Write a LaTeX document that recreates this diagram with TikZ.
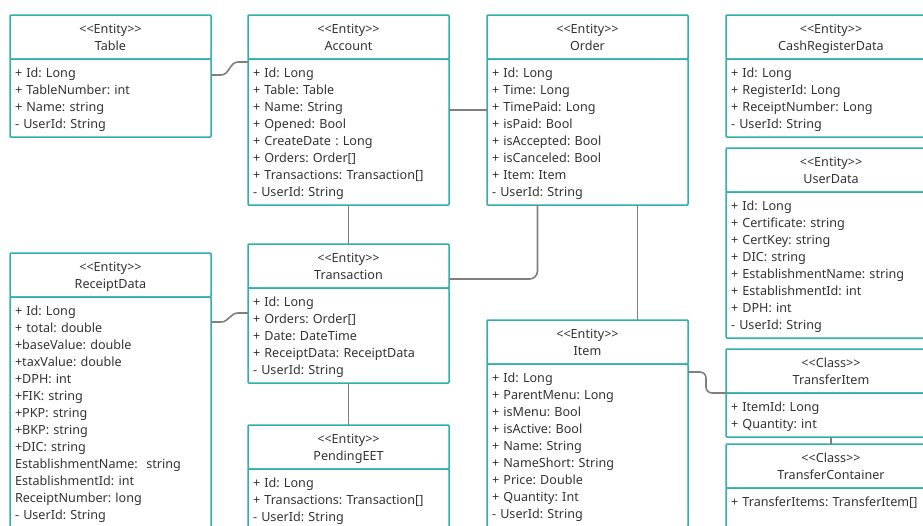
\documentclass[tikz,border=0pt]{standalone}
\usepackage{fontspec}
\setmainfont{Noto Sans}
\usepackage{tikz}
\usetikzlibrary{positioning}
\definecolor{clsborder}{HTML}{2FB0A9}
\definecolor{linkgray}{HTML}{7F7F7F}
\definecolor{clstext}{HTML}{333333}
\newcommand{\stereo}[1]{<\kern0pt<#1>\kern0pt>}
\frenchspacing

\begin{document}
\begin{tikzpicture}[x=1pt, y=-1pt, node distance=0pt,
	every node/.style={draw=clsborder, line width=1.5pt, fill=white, text=clstext, outer sep=0pt,
		inner xsep=5pt, inner ysep=3pt, rounded corners=1pt, font=\fontsize{12.6}{17}\selectfont,
		execute at begin node=\rule{0pt}{15.9pt}, execute at end node=\strut},
	hd/.style={anchor=north west, align=center, text width=191pt},
	bd/.style={align=left, text width=191pt},
	wide/.style={text width=200pt},
	link/.style={draw=linkgray, line width=1.6pt}]
			\useasboundingbox (0,0) rectangle (923,525);
			% Nodes
			\node (tblh) [hd] at (10,15) {\stereo{Entity}\\Table};
			\node (tblb) [bd, below=of tblh] {+ Id: Long\\+ TableNumber: int\\+ Name: string\\- UserId: String};
			\node (acch) [hd] at (248,15) {\stereo{Entity}\\Account};
			\node (accb) [bd, below=of acch] {+ Id: Long\\+ Table: Table\\+ Name: String\\+ Opened: Bool\\+ CreateDate : Long\\+ Orders: Order[]\\+ Transactions: Transaction[]\\- UserId: String};
			\node (ordh) [hd] at (487,15) {\stereo{Entity}\\Order};
			\node (ordb) [bd, below=of ordh] {+ Id: Long\\+ Time: Long\\+ TimePaid: Long\\+ isPaid: Bool\\+ isAccepted: Bool\\+ isCanceled: Bool\\+ Item: Item\\- UserId: String};
			\node (crdh) [hd, wide] at (726,15) {\stereo{Entity}\\CashRegisterData};
			\node (crdb) [bd, wide, below=of crdh] {+ Id: Long\\+ RegisterId: Long\\+ ReceiptNumber: Long\\- UserId: String};
			\node (udh) [hd, wide] at (726,148) {\stereo{Entity}\\UserData};
			\node (udb) [bd, wide, below=of udh] {+ Id: Long\\+ Certificate: string\\+ CertKey: string\\+ DIC: string\\+ EstablishmentName: string\\+ EstablishmentId: int\\+ DPH: int\\- UserId: String};
			\node (rcph) [hd] at (10,253) {\stereo{Entity}\\ReceiptData};
			\node (rcpb) [bd, below=of rcph] {+ Id: Long\\+ total: double\\+baseValue: double\\+taxValue: double\\+DPH: int\\+FIK: string\\+PKP: string\\+BKP: string\\+DIC: string\\EstablishmentName:\ \ string\\EstablishmentId: int\\ReceiptNumber: long\\- UserId: String};
			\node (trh) [hd] at (248,244) {\stereo{Entity}\\Transaction};
			\node (trb) [bd, below=of trh] {+ Id: Long\\+ Orders: Order[]\\+ Date: DateTime\\+ ReceiptData: ReceiptData\\- UserId: String};
			\node (peth) [hd] at (248,425) {\stereo{Entity}\\PendingEET};
			\node (petb) [bd, below=of peth] {+ Id: Long\\+ Transactions: Transaction[]\\- UserId: String};
			\node (itmh) [hd] at (487,320) {\stereo{Entity}\\Item};
			\node (itmb) [bd, below=of itmh] {+ Id: Long\\+ ParentMenu: Long\\+ isMenu: Bool\\+ isActive: Bool\\+ Name: String\\+ NameShort: String\\+ Price: Double\\+ Quantity: Int\\- UserId: String};
			\node (tih) [hd, wide] at (726,349) {\stereo{Class}\\TransferItem};
			\node (tib) [bd, wide, below=of tih] {+ ItemId: Long\\+ Quantity: int};
			\node (tch) [hd, wide] at (726,444) {\stereo{Class}\\TransferContainer};
			\node (tcb) [bd, wide, below=of tch, text depth=30pt] {+ TransferItems: TransferItem[]};
			% Edges
			\draw[link] ([yshift=-16pt]tblb.north east) -- ++(10,0) to[out=0,in=180] ([xshift=-10pt,yshift=-3pt]accb.north west) -- ([yshift=-3pt]accb.north west);
			\draw[link] ([yshift=-25pt]rcpb.north east) -- ++(10,0) to[out=0,in=180] ([xshift=-10pt,yshift=-25pt]trb.north west) -- ([yshift=-25pt]trb.north west);
			\draw[link] ([yshift=-51pt]accb.north east) -- ([yshift=-51pt]ordb.north west);
			\draw[link, rounded corners=8pt] ([yshift=-35pt]trh.north east) -| ([xshift=-50pt]ordb.south);
			\draw[link] ([xshift=50pt]ordb.south) -- ([xshift=50pt]itmh.north);
			\draw[link, rounded corners=6pt] ([yshift=-8pt]itmb.north east) -- ++(18,0) |- (tib.north west);
			\foreach \src/\dst in {accb/trh,trb/peth,tib/tch}
			{\draw[link] (\src.south) -- (\dst.north);}
		\end{tikzpicture}
\end{document}
